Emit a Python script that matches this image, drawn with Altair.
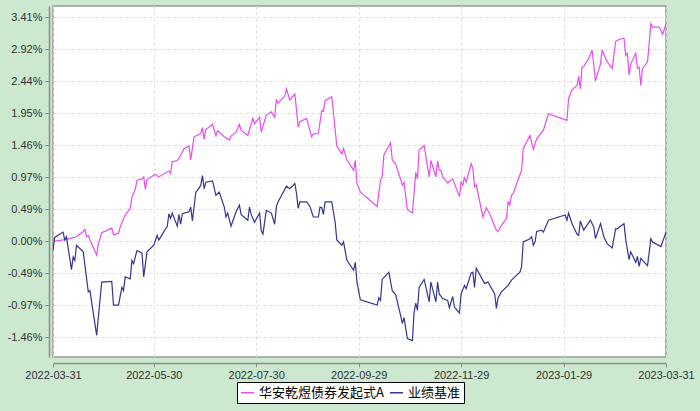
import altair as alt
import pandas as pd

fund_name = "华安乾煜债券发起式A"
bench_name = "业绩基准"

fund_dates = [
    "2022-03-31", "2022-04-08", "2022-04-14", "2022-04-18", "2022-04-19", "2022-04-20",
    "2022-04-21", "2022-04-22", "2022-04-26", "2022-04-27", "2022-04-29", "2022-05-05",
    "2022-05-06", "2022-05-09", "2022-05-10", "2022-05-13", "2022-05-16", "2022-05-17",
    "2022-05-19", "2022-05-20", "2022-05-23", "2022-05-24", "2022-05-25", "2022-05-26",
    "2022-05-31", "2022-06-02", "2022-06-08", "2022-06-09", "2022-06-10", "2022-06-13",
    "2022-06-15", "2022-06-17", "2022-06-20", "2022-06-21", "2022-06-23", "2022-06-27",
    "2022-06-28", "2022-06-29", "2022-06-30", "2022-07-04", "2022-07-06", "2022-07-07",
    "2022-07-11", "2022-07-14", "2022-07-15", "2022-07-18", "2022-07-20", "2022-07-21",
    "2022-07-25", "2022-07-28", "2022-07-29", "2022-08-01", "2022-08-02", "2022-08-05",
    "2022-08-08", "2022-08-10", "2022-08-11", "2022-08-12", "2022-08-16", "2022-08-17",
    "2022-08-19", "2022-08-22", "2022-08-24", "2022-08-25", "2022-08-29", "2022-09-01",
    "2022-09-02", "2022-09-05", "2022-09-07", "2022-09-08", "2022-09-09", "2022-09-13",
    "2022-09-16", "2022-09-19", "2022-09-20", "2022-09-22", "2022-09-26", "2022-09-27",
    "2022-09-28", "2022-09-30", "2022-10-10", "2022-10-12", "2022-10-13", "2022-10-14",
    "2022-10-18", "2022-10-19", "2022-10-21", "2022-10-24", "2022-10-25", "2022-10-26",
    "2022-10-28", "2022-10-31", "2022-11-02", "2022-11-03", "2022-11-04", "2022-11-07",
    "2022-11-10", "2022-11-11", "2022-11-14", "2022-11-15", "2022-11-16", "2022-11-17",
    "2022-11-18", "2022-11-21", "2022-11-24", "2022-11-28", "2022-11-29", "2022-11-30",
    "2022-12-01", "2022-12-02", "2022-12-05", "2022-12-06", "2022-12-07", "2022-12-08",
    "2022-12-12", "2022-12-14", "2022-12-16", "2022-12-20", "2022-12-21", "2022-12-23",
    "2022-12-26", "2022-12-27", "2022-12-28", "2022-12-29", "2022-12-30", "2023-01-04",
    "2023-01-05", "2023-01-09", "2023-01-11", "2023-01-13", "2023-01-16", "2023-01-17",
    "2023-01-20", "2023-01-31", "2023-02-01", "2023-02-03", "2023-02-06", "2023-02-07",
    "2023-02-08", "2023-02-09", "2023-02-10", "2023-02-13", "2023-02-15", "2023-02-17",
    "2023-02-20", "2023-02-21", "2023-02-23", "2023-02-24", "2023-02-27", "2023-03-01",
    "2023-03-03", "2023-03-06", "2023-03-07", "2023-03-08", "2023-03-09", "2023-03-10",
    "2023-03-13", "2023-03-14", "2023-03-15", "2023-03-16", "2023-03-17", "2023-03-20",
    "2023-03-22", "2023-03-23", "2023-03-27", "2023-03-29", "2023-03-31",
]
fund_values = [
    0.00, 0.03, 0.07, 0.15, 0.18, 0.07,
    0.09, 0.02, -0.21, -0.04, 0.13, 0.20,
    0.10, 0.12, 0.22, 0.40, 0.50, 0.67,
    0.79, 0.93, 0.95, 0.98, 0.79, 0.94,
    1.02, 0.98, 1.07, 1.03, 1.21, 1.23,
    1.31, 1.41, 1.45, 1.24, 1.59, 1.64,
    1.73, 1.55, 1.70, 1.78, 1.61, 1.68,
    1.59, 1.54, 1.60, 1.66, 1.78, 1.69,
    1.61, 1.87, 1.79, 1.89, 1.66, 1.92,
    1.97, 1.89, 2.16, 2.10, 2.21, 2.32,
    2.15, 2.24, 1.74, 1.82, 1.87, 1.59,
    1.63, 1.64, 1.99, 1.98, 2.14, 2.20,
    1.45, 1.33, 1.41, 1.24, 1.08, 1.23,
    0.88, 0.75, 0.53, 0.93, 0.98, 1.31,
    1.50, 1.24, 1.18, 0.94, 0.85, 0.90,
    0.48, 0.43, 1.05, 0.95, 1.39, 1.46,
    0.98, 1.23, 0.98, 1.22, 1.08, 1.08,
    0.98, 0.89, 0.95, 0.68, 0.90, 0.85,
    0.98, 0.90, 1.18, 1.11, 0.83, 0.86,
    0.37, 0.51, 0.42, 0.17, 0.15, 0.24,
    0.35, 0.61, 0.55, 0.70, 0.73, 1.08,
    1.41, 1.61, 1.40, 1.56, 1.66, 1.69,
    1.94, 1.84, 2.17, 2.30, 2.37, 2.51,
    2.32, 2.65, 2.66, 2.78, 2.91, 2.44,
    2.70, 2.91, 2.78, 2.73, 2.63, 3.04,
    3.07, 3.09, 2.83, 2.86, 2.53, 2.70,
    2.86, 2.63, 2.65, 2.37, 2.63, 2.73,
    3.31, 3.26, 3.26, 3.15, 3.31,
]

bench_dates = [
    "2022-03-31", "2022-04-01", "2022-04-06", "2022-04-07", "2022-04-08", "2022-04-11",
    "2022-04-12", "2022-04-13", "2022-04-14", "2022-04-18", "2022-04-21", "2022-04-22",
    "2022-04-26", "2022-04-29", "2022-05-05", "2022-05-06", "2022-05-09", "2022-05-11",
    "2022-05-12", "2022-05-13", "2022-05-16", "2022-05-17", "2022-05-18", "2022-05-20",
    "2022-05-23", "2022-05-24", "2022-05-26", "2022-05-30", "2022-06-01", "2022-06-02",
    "2022-06-06", "2022-06-07", "2022-06-08", "2022-06-09", "2022-06-10", "2022-06-13",
    "2022-06-14", "2022-06-15", "2022-06-16", "2022-06-20", "2022-06-21", "2022-06-22",
    "2022-06-24", "2022-06-27", "2022-06-28", "2022-06-29", "2022-06-30", "2022-07-04",
    "2022-07-06", "2022-07-08", "2022-07-11", "2022-07-12", "2022-07-13", "2022-07-15",
    "2022-07-18", "2022-07-20", "2022-07-21", "2022-07-25", "2022-07-26", "2022-07-27",
    "2022-07-29", "2022-08-01", "2022-08-02", "2022-08-03", "2022-08-05", "2022-08-08",
    "2022-08-10", "2022-08-11", "2022-08-12", "2022-08-17", "2022-08-19", "2022-08-22",
    "2022-08-23", "2022-08-24", "2022-08-25", "2022-08-29", "2022-08-31", "2022-09-02",
    "2022-09-05", "2022-09-06", "2022-09-07", "2022-09-08", "2022-09-09", "2022-09-13",
    "2022-09-15", "2022-09-16", "2022-09-19", "2022-09-20", "2022-09-22", "2022-09-26",
    "2022-09-27", "2022-09-28", "2022-09-30", "2022-10-10", "2022-10-11", "2022-10-12",
    "2022-10-13", "2022-10-17", "2022-10-19", "2022-10-21", "2022-10-24", "2022-10-25",
    "2022-10-26", "2022-10-28", "2022-10-31", "2022-11-01", "2022-11-02", "2022-11-03",
    "2022-11-04", "2022-11-07", "2022-11-10", "2022-11-11", "2022-11-14", "2022-11-15",
    "2022-11-16", "2022-11-18", "2022-11-21", "2022-11-22", "2022-11-24", "2022-11-25",
    "2022-11-28", "2022-11-29", "2022-12-01", "2022-12-02", "2022-12-05", "2022-12-06",
    "2022-12-07", "2022-12-08", "2022-12-13", "2022-12-15", "2022-12-19", "2022-12-20",
    "2022-12-21", "2022-12-23", "2022-12-27", "2022-12-29", "2023-01-03", "2023-01-04",
    "2023-01-05", "2023-01-09", "2023-01-10", "2023-01-11", "2023-01-12", "2023-01-13",
    "2023-01-16", "2023-01-17", "2023-01-20", "2023-01-30", "2023-01-31", "2023-02-01",
    "2023-02-03", "2023-02-06", "2023-02-07", "2023-02-08", "2023-02-10", "2023-02-14",
    "2023-02-16", "2023-02-17", "2023-02-20", "2023-02-22", "2023-02-24", "2023-02-27",
    "2023-03-01", "2023-03-02", "2023-03-06", "2023-03-07", "2023-03-09", "2023-03-10",
    "2023-03-13", "2023-03-14", "2023-03-15", "2023-03-16", "2023-03-20", "2023-03-22",
    "2023-03-23", "2023-03-28", "2023-03-31",
]
bench_values = [
    -0.14, 0.06, 0.14, 0.02, 0.07, -0.43,
    -0.24, -0.29, -0.06, -0.16, -0.77, -0.75,
    -1.43, -0.62, -0.61, -0.97, -0.97, -0.70,
    -0.75, -0.54, -0.57, -0.29, -0.34, -0.14,
    -0.18, -0.54, -0.16, -0.06, 0.09, 0.02,
    0.19, 0.22, 0.42, 0.35, 0.43, 0.23,
    0.41, 0.26, 0.42, 0.45, 0.52, 0.31,
    0.74, 0.85, 1.00, 0.80, 0.90, 0.92,
    0.70, 0.75, 0.52, 0.37, 0.43, 0.23,
    0.45, 0.55, 0.41, 0.32, 0.52, 0.41,
    0.29, 0.43, 0.16, 0.11, 0.47, 0.43,
    0.26, 0.53, 0.60, 0.84, 0.80, 0.88,
    0.73, 0.50, 0.60, 0.60, 0.53, 0.37,
    0.37, 0.52, 0.51, 0.41, 0.60, 0.60,
    0.29, 0.02, -0.06, -0.01, -0.29, -0.44,
    -0.32, -0.62, -0.89, -0.97, -0.86, -0.90,
    -0.58, -0.47, -0.75, -0.81, -1.13, -1.25,
    -1.16, -1.48, -1.51, -1.08, -0.94, -1.05,
    -0.70, -0.58, -0.92, -0.62, -0.92, -0.62,
    -0.80, -0.87, -0.90, -1.01, -0.84, -1.00,
    -1.09, -0.80, -0.67, -0.72, -0.48, -0.47,
    -0.70, -0.41, -0.64, -0.62, -0.80, -1.02,
    -0.86, -0.77, -0.67, -0.59, -0.47, -0.39,
    -0.01, 0.04, 0.07, -0.06, -0.01, 0.15,
    0.17, 0.14, 0.32, 0.40, 0.32, 0.43,
    0.27, 0.11, 0.09, 0.31, 0.17, 0.32,
    0.22, 0.04, 0.27, 0.07, -0.04, -0.10,
    0.19, 0.19, 0.27, 0.03, -0.28, -0.16,
    -0.32, -0.23, -0.38, -0.26, -0.37, 0.04,
    -0.01, -0.08, 0.14,
]

x_tick_dates = ["2022-03-31", "2022-05-30", "2022-07-30", "2022-09-29",
                "2022-11-29", "2023-01-29", "2023-03-31"]
y_tick_values = [-1.4614, -0.9743, -0.4871, 0.0, 0.4871, 0.9743, 1.4614,
                 1.9486, 2.4357, 2.9229, 3.41]
y_domain = [-1.76, 3.58]

df = pd.concat([
    pd.DataFrame({"date": fund_dates, "value": fund_values, "series": fund_name}),
    pd.DataFrame({"date": bench_dates, "value": bench_values, "series": bench_name}),
], ignore_index=True)


def dt(s):
    y, m, d = (int(p) for p in s.split("-"))
    return alt.DateTime(year=y, month=m, date=d, utc=True)


axis_gray = "#8c8c8c"
label_color = "#333333"

chart = alt.Chart(df).mark_line(strokeWidth=1.2, clip=True).encode(
    x=alt.X(
        "date:T",
        scale=alt.Scale(type="utc", domain=[dt(x_tick_dates[0]), dt(x_tick_dates[-1])]),
        axis=alt.Axis(
            values=[dt(s) for s in x_tick_dates],
            labelExpr="utcFormat(datum.value, '%Y-%m-%d')",
            title=None, offset=6, grid=True, gridDash=[3, 3], gridColor="#dcdcdc",
            domainColor=axis_gray, domainWidth=1.5, tickColor=axis_gray, tickSize=4,
            labelPadding=2, labelFont="Liberation Sans", labelFontSize=11,
            labelColor=label_color, labelOverlap=False, labelFlush=False, labelBound=False,
        ),
    ),
    y=alt.Y(
        "value:Q",
        scale=alt.Scale(domain=y_domain, nice=False, zero=False),
        axis=alt.Axis(
            values=y_tick_values,
            labelExpr="(datum.value < -0.001 ? '-' : '') + format(abs(datum.value), '.2f') + '%'",
            title=None, offset=4, grid=True, gridDash=[3, 3], gridColor="#dcdcdc",
            domainColor=axis_gray, domainWidth=1.5, tickColor=axis_gray, tickSize=4,
            labelPadding=3, labelFont="Liberation Sans", labelFontSize=11,
            labelColor=label_color, labelOverlap=False, labelBound=False,
        ),
    ),
    color=alt.Color(
        "series:N",
        scale=alt.Scale(domain=[fund_name, bench_name], range=["#e94cf0", "#35358f"]),
        legend=alt.Legend(
            title=None, orient="none", legendX=184, legendY=376, direction="horizontal",
            symbolType="stroke", symbolSize=169, symbolStrokeWidth=1.5,
            labelFont="Noto Sans CJK SC", labelFontSize=13, labelColor="#000000",
            fillColor="white", strokeColor="black", padding=3, columnPadding=3,
            labelOffset=4, cornerRadius=0,
        ),
    ),
).properties(
    width=613,
    height=351,
    autosize=alt.AutoSizeParams(type="none"),
    padding={"left": 53, "top": 6, "right": 34, "bottom": 54},
    background="#CCE8CF",
).configure_view(fill="white", stroke="#999999", strokeWidth=1.5)

chart.save("out.html", embed_options={"renderer": "svg", "actions": False})
